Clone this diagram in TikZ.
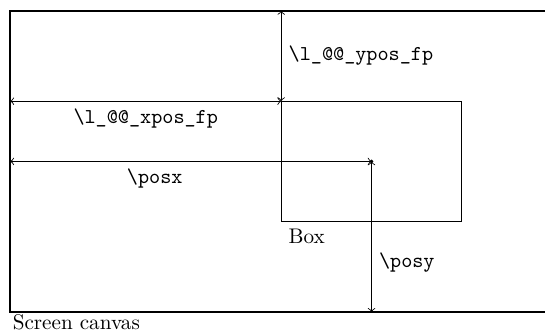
\documentclass[tikz,border=0pt]{standalone}
\usepackage{tikz}
\usetikzlibrary{arrows}

\begin{document}
\begin{tikzpicture}
\useasboundingbox (-0.17,-0.35) rectangle (8.88,5.18);

\coordinate (csw) at (0,0);
\coordinate (cne) at (9,5);
\coordinate (bsw) at (4.5,1.5);
\coordinate (bne) at (7.5,3.5);
\coordinate (bnw) at (4.5,3.5);
\coordinate (ctop) at (4.5,5);
\coordinate (cleftx) at (0,3.5);
\coordinate (clefty) at (0,2.5);
\coordinate (cbot) at (6,0);
\coordinate (pt) at (6,2.5);

\draw [black, line width=0.8pt] (csw) rectangle (cne);
\draw [black, line width=0.5pt] (bsw) rectangle (bne);
\fill [black] (pt) circle (0.9pt);

\draw [black, line width=0.4pt, <->] (ctop) -- (bnw)
  node (ylab) [midway, anchor=west] {\ttfamily\textbackslash l\_@@\_ypos\_fp};
\draw [black, line width=0.4pt, <->] (cleftx) -- (bnw)
  node (xlab) [midway, anchor=north] {\ttfamily\textbackslash l\_@@\_xpos\_fp};
\draw [black, line width=0.4pt, <->] (clefty) -- (pt)
  node (pxlab) [pos=0.4, anchor=north] {\ttfamily\textbackslash posx};
\draw [black, line width=0.4pt, <->] (cbot) -- (pt)
  node (pylab) [pos=0.33, anchor=west] {\ttfamily\textbackslash posy};

\node (boxlab) [anchor=north west] at (bsw) {Box};
\node (canvaslab) [anchor=north west, inner sep=1pt] at (csw) {Screen canvas};

\end{tikzpicture}
\end{document}
